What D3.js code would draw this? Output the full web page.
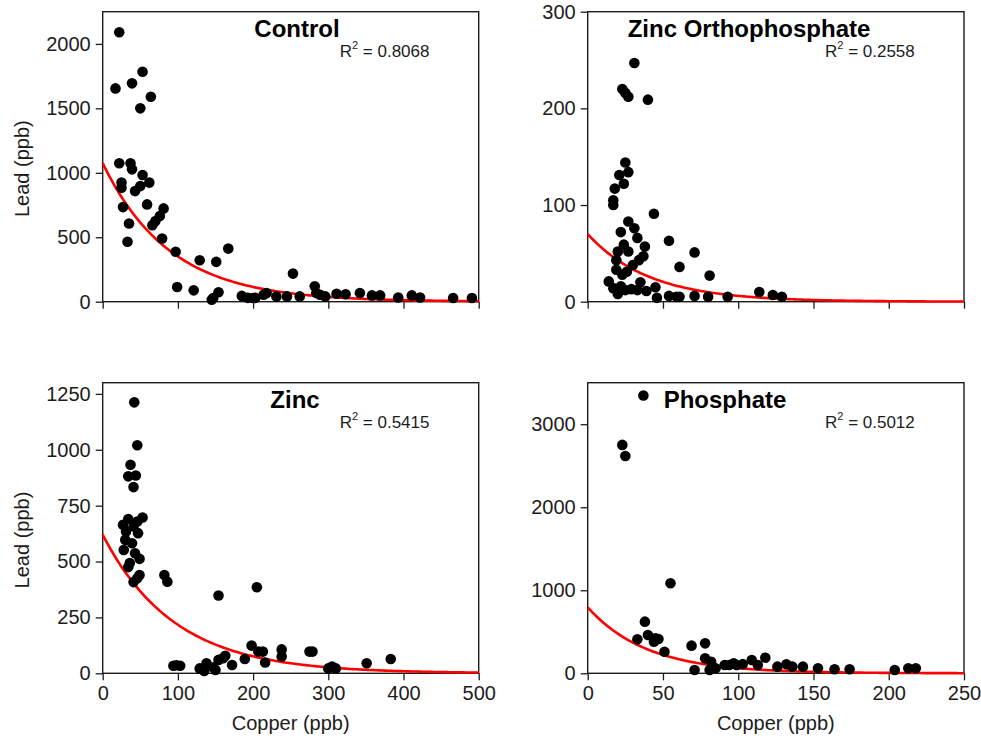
<!DOCTYPE html>
<html>
<head>
<meta charset="utf-8">
<script src="https://cdn.jsdelivr.net/npm/d3@7"></script>
<style>
  html, body { margin: 0; padding: 0; background: #fff; }
  svg { display: block; font-family: Arial, "Liberation Sans", sans-serif; }
</style>
</head>
<body>
<svg id="chart" width="981" height="743"></svg>
<script>
// Copper vs lead, four treatment groups, with exponential-decay fits.

const panelNames = ["Control", "Zinc Orthophosphate", "Zinc", "Phosphate"];
const r2Labels = ["0.8068", "0.2558", "0.5415", "0.5012"];

// Axis ranges and tick values per panel
const xMax = [500, 250, 500, 250];
const yMax = [2250, 300, 1300, 3500];
const xTicks = [[0, 100, 200, 300, 400, 500], [0, 50, 100, 150, 200, 250],
                [0, 100, 200, 300, 400, 500], [0, 50, 100, 150, 200, 250]];
const yTicks = [[0, 500, 1000, 1500, 2000], [0, 100, 200, 300],
                [0, 250, 500, 750, 1000, 1250], [0, 1000, 2000, 3000]];

// Fitted curve coefficients: lead = a * exp(-b * copper)
const fitA = [1075, 70, 620, 795];
const fitB = [0.0112, 0.0245, 0.0105, 0.0255];

// Samples (ppb)
const controlCopper = [22, 17, 39, 53, 50, 64, 22, 37, 39, 25, 25, 53, 62, 43, 50, 27, 59, 81, 76, 70,
  66, 35, 33, 79, 97, 129, 151, 167, 99, 121, 147, 154, 145, 185, 193, 200, 203, 214, 218, 231,
  245, 253, 262, 282, 284, 289, 296, 311, 323, 342, 358, 369, 393, 411, 422, 466, 491];
const controlLead = [2090, 1655, 1694, 1784, 1500, 1590, 1074, 1074, 1027, 924, 885, 983, 924, 858, 897, 734, 755, 724, 664, 625,
  594, 607, 465, 490, 387, 322, 309, 412, 114, 88, 29, 73, 15, 45, 30, 29, 30, 54, 68, 41,
  41, 218, 41, 119, 68, 54, 41, 62, 58, 68, 49, 49, 33, 49, 33, 29, 29];

const zopCopper = [31, 23, 25, 27, 40, 25, 21, 27, 24, 18, 17, 17, 44, 27, 31, 22, 33, 54, 24, 38,
  20, 27, 37, 71, 19, 34, 61, 19, 26, 81, 14, 17, 22, 25, 20, 29, 33, 39, 45, 46,
  54, 59, 61, 71, 80, 93, 114, 123, 129, 23, 30, 35];
const zopLead = [247, 220, 216, 212, 209, 144, 131, 134, 122, 117, 105, 100, 91, 83, 76, 72, 66, 63, 59, 57,
  52, 52, 47, 51, 43, 43, 36, 33, 31, 27, 21, 14, 16, 12, 8, 13, 12, 11, 15, 4,
  6, 5, 5, 6, 5, 5, 10, 7, 5, 28, 38, 20];

const zincCopper = [42, 46, 37, 34, 44, 41, 53, 27, 34, 46, 41, 31, 47, 30, 39, 28, 43, 49, 36, 34,
  49, 46, 41, 82, 86, 154, 205, 94, 103, 98, 129, 138, 147, 154, 160, 163, 172, 189, 198, 207,
  213, 216, 238, 238, 275, 279, 300, 305, 310, 351, 383, 135, 150];
const zincLead = [1212, 1020, 933, 881, 885, 833, 697, 664, 690, 679, 657, 634, 627, 597, 582, 552, 537, 512, 493, 475,
  440, 425, 408, 440, 410, 348, 385, 34, 34, 36, 22, 45, 27, 60, 67, 78, 37, 64, 124, 97,
  97, 48, 107, 75, 97, 97, 22, 30, 22, 45, 64, 10, 15];

const phosCopper = [37, 23, 25, 55, 38, 40, 33, 45, 47, 44, 51, 69, 78, 71, 78, 82, 81, 91, 94, 97,
  99, 103, 109, 113, 118, 126, 132, 136, 143, 153, 164, 174, 204, 213, 218, 85];
const phosLead = [3345, 2751, 2618, 1084, 622, 461, 410, 422, 413, 381, 260, 333, 361, 40, 181, 140, 40, 100, 100, 120,
  100, 110, 160, 100, 188, 80, 108, 80, 80, 60, 48, 48, 40, 60, 60, 60];

const copperSets = [controlCopper, zopCopper, zincCopper, phosCopper];
const leadSets = [controlLead, zopLead, zincLead, phosLead];

// Panel frames on the page
const cols = [{ x0: 102.7, x1: 478.7 }, { x0: 587.7, x1: 964 }];
const rows = [{ y0: 11.7, y1: 301.7 }, { y0: 382.7, y1: 673.3 }];
const titleX = [297, 749, 295, 725];

const svg = d3.select("#chart");
const ink = "#1c1c1c";
const plain = d3.format("d");

panelNames.forEach((name, i) => {
  const col = cols[i % 2], row = rows[Math.floor(i / 2)];
  const bottomRow = i >= 2;
  const x = d3.scaleLinear().domain([0, xMax[i]]).range([col.x0, col.x1]);
  const y = d3.scaleLinear().domain([0, yMax[i]]).range([row.y1, row.y0]);
  const g = svg.append("g");

  // y axis
  const ya = g.append("g").attr("transform", `translate(${col.x0},0)`)
    .call(d3.axisLeft(y).tickValues(yTicks[i]).tickFormat(plain)
      .tickSize(7).tickPadding(5).tickSizeOuter(0));
  // x axis
  const xa = g.append("g").attr("transform", `translate(0,${row.y1})`)
    .call(d3.axisBottom(x).tickValues(xTicks[i]).tickSize(7).tickPadding(6).tickSizeOuter(0)
      .tickFormat(bottomRow ? plain : () => ""));
  [ya, xa].forEach(a => {
    a.select(".domain").remove();
    a.selectAll(".tick line").attr("stroke", ink).attr("stroke-width", 1.3);
    a.selectAll(".tick text").attr("fill", ink).style("font-size", "20px")
      .style("font-family", "Arial, 'Liberation Sans', sans-serif");
  });

  // frame
  g.append("rect")
    .attr("x", col.x0).attr("y", row.y0)
    .attr("width", col.x1 - col.x0).attr("height", row.y1 - row.y0)
    .attr("fill", "none").attr("stroke", ink).attr("stroke-width", 1.4);

  // fitted curve
  const xs = d3.range(0, xMax[i] + 0.001, xMax[i] / 200);
  const line = d3.line().x(d => x(d)).y(d => y(fitA[i] * Math.exp(-fitB[i] * d)));
  g.append("path").datum(xs).attr("d", line)
    .attr("fill", "none").attr("stroke", "#ff0000").attr("stroke-width", 2.6);

  // samples
  const pts = copperSets[i].map((c, k) => [c, leadSets[i][k]]);
  g.append("g").selectAll("circle").data(pts).join("circle")
    .attr("cx", d => x(d[0])).attr("cy", d => y(d[1])).attr("r", 5.3)
    .attr("fill", "#000");

  // title
  g.append("text").attr("x", titleX[i]).attr("y", row.y0 + 25)
    .attr("text-anchor", "middle").attr("fill", "#000")
    .style("font-size", "24px").style("font-weight", "bold").text(name);

  // R² annotation
  const r2 = g.append("text").attr("x", col.x1 - 139).attr("y", row.y0 + 45.5)
    .attr("fill", ink).style("font-size", "17px");
  r2.append("tspan").text("R");
  r2.append("tspan").attr("dy", -8).style("font-size", "11px").text("2");
  r2.append("tspan").attr("dy", 8).text(" = " + r2Labels[i]);

  // axis titles
  if (i % 2 === 0) {
    g.append("text")
      .attr("transform", `translate(29,${(row.y0 + row.y1) / 2 + 12}) rotate(-90)`)
      .attr("text-anchor", "middle").attr("fill", ink)
      .style("font-size", "20px").text("Lead (ppb)");
  }
  if (bottomRow) {
    g.append("text").attr("x", (col.x0 + col.x1) / 2).attr("y", 730)
      .attr("text-anchor", "middle").attr("fill", ink)
      .style("font-size", "20px").text("Copper (ppb)");
  }
});
</script>
</body>
</html>
